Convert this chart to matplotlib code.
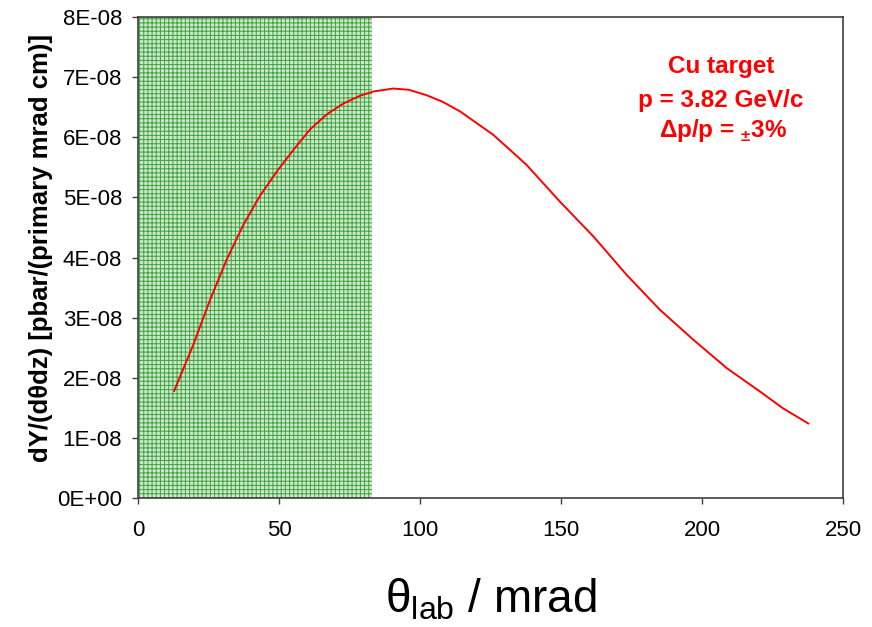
import matplotlib
matplotlib.use('Agg')
import matplotlib.pyplot as plt

# curve (theta in mrad, yield in 1E-08 units)
theta = [12.8, 19.6, 25.5, 31.4, 37.3, 43.3, 49.2, 55.1, 61.0, 66.9, 72.8,
         78.7, 83.4, 90.5, 96.0, 102.3, 108.0, 114.2, 126.0, 137.8, 149.6,
         161.5, 173.3, 185.1, 197.0, 208.8, 220.6, 228.8, 237.7]
dyield = [1.78, 2.55, 3.29, 3.96, 4.54, 5.03, 5.43, 5.79, 6.13, 6.38, 6.56,
          6.69, 6.76, 6.81, 6.79, 6.70, 6.59, 6.43, 6.04, 5.54, 4.93,
          4.35, 3.71, 3.13, 2.63, 2.16, 1.77, 1.49, 1.24]
dyield = [v * 1e-8 for v in dyield]

# shaded acceptance region
band = (0, 83)

xticks = [0, 50, 100, 150, 200, 250]
yticks = [i * 1e-8 for i in range(9)]
ylabels = ['0E+00'] + ['%dE-08' % i for i in range(1, 9)]

plt.rcParams['font.family'] = ['Liberation Sans', 'DejaVu Sans']
plt.rcParams['mathtext.fontset'] = 'custom'
plt.rcParams['mathtext.rm'] = 'Liberation Sans'
plt.rcParams['mathtext.bf'] = 'Liberation Sans:bold'
plt.rcParams['hatch.linewidth'] = 0.7

fig = plt.figure(figsize=(8.72, 6.27), dpi=100)
ax = fig.add_axes([0.1583, 0.2057, 0.8084, 0.7672])

ax.axvspan(band[0], band[1], facecolor='#cde8cd', edgecolor='#3fa33f',
           hatch='++++', linewidth=0, zorder=1)
ax.plot(theta, dyield, color='red', linewidth=1.4, zorder=3)

ax.set_xlim(0, 250)
ax.set_ylim(0, 8e-8)
ax.set_xticks(xticks)
ax.set_xticklabels([str(t) for t in xticks])
ax.set_yticks(yticks)
ax.set_yticklabels(ylabels)
ax.tick_params(direction='out', length=4.5, width=1, color='#404040',
               labelsize=16)
ax.tick_params(axis='x', pad=11)
ax.tick_params(axis='y', pad=7)
for s in ax.spines.values():
    s.set_color('#404040')
    s.set_linewidth(1.2)

fig.text(41 / 872, 1 - 248 / 627, 'dY/(dθdz) [pbar/(primary mrad cm)]',
         fontsize=18.5, fontweight='bold', rotation=90,
         ha='center', va='center')
fig.text(491 / 872, 1 - 612 / 627, r'θ$_{\rm lab}$ / mrad', fontsize=33,
         ha='center', va='baseline')

ax.text(206.7, 7.07e-8, 'Cu target', color='red', fontsize=17.5,
        fontweight='bold', ha='center', va='baseline')
ax.text(206.7, 6.51e-8, 'p = 3.82 GeV/c', color='red', fontsize=17.5,
        fontweight='bold', ha='center', va='baseline')
ax.text(207.5, 6.0e-8, r'Δp/p = $_{\mathbf{\pm}}$3%', color='red', fontsize=17.5,
        fontweight='bold', ha='center', va='baseline')

fig.savefig('out.png', dpi=100)
